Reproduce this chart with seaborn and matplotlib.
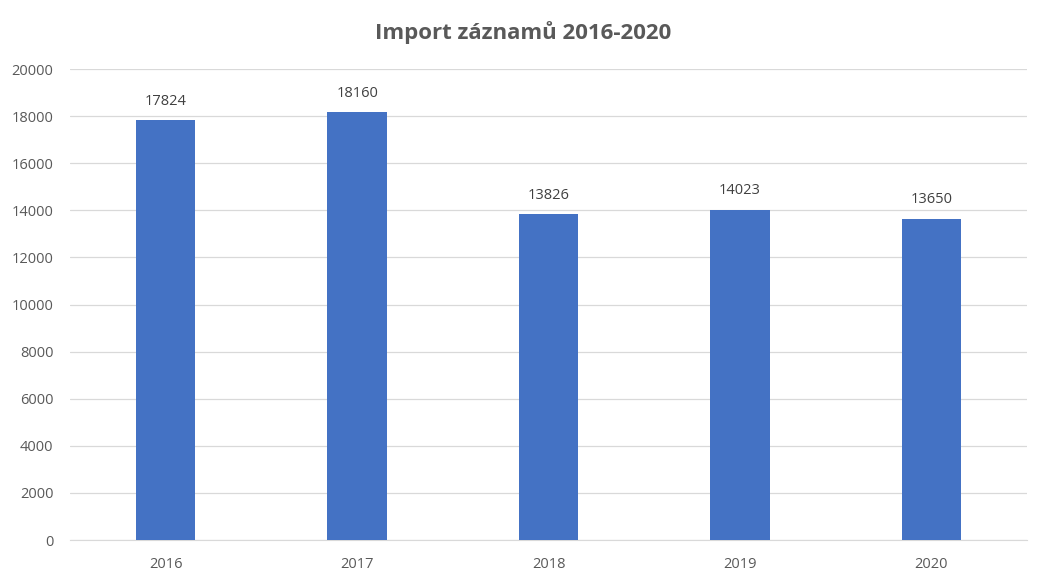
import pandas as pd
import seaborn as sns
import matplotlib.pyplot as plt

years = ["2016", "2017", "2018", "2019", "2020"]
counts = [17824, 18160, 13826, 14023, 13650]

data = pd.DataFrame({"rok": years, "pocet": counts})

sns.set_style("white")
plt.rcParams['font.family'] = ['Open Sans', 'DejaVu Sans']

fig = plt.figure(figsize=(10.47, 5.85), dpi=100)
ax = fig.add_axes([0.0669, 0.0769, 0.914, 0.805])

sns.barplot(data=data, x="rok", y="pocet", color="#4472C4", width=0.31,
            saturation=1, linewidth=0, ax=ax, zorder=3)

ax.set_ylim(0, 20000)
ax.set_yticks(range(0, 20001, 2000))
ax.yaxis.grid(True, color="#D9D9D9", linewidth=0.9, zorder=0)
ax.set_axisbelow(True)
ax.set_xlabel("")
ax.set_ylabel("")
for s in ["top", "right", "left"]:
    ax.spines[s].set_visible(False)
ax.spines["bottom"].set_color("#D9D9D9")
ax.tick_params(axis="both", length=0, labelsize=10.5, labelcolor="#595959")
ax.tick_params(axis="x", pad=12)
ax.tick_params(axis="y", pad=12)

# popisky nad sloupci
for i, v in enumerate(counts):
    ax.text(i, v + 500, str(v), ha="center", va="bottom", fontsize=10.5, color="#404040")

fig.text(0.5, 0.945, "Import záznamů 2016-2020", ha="center", va="center",
         fontsize=16, fontweight="bold", color="#595959")

fig.savefig("out.png", dpi=100)
